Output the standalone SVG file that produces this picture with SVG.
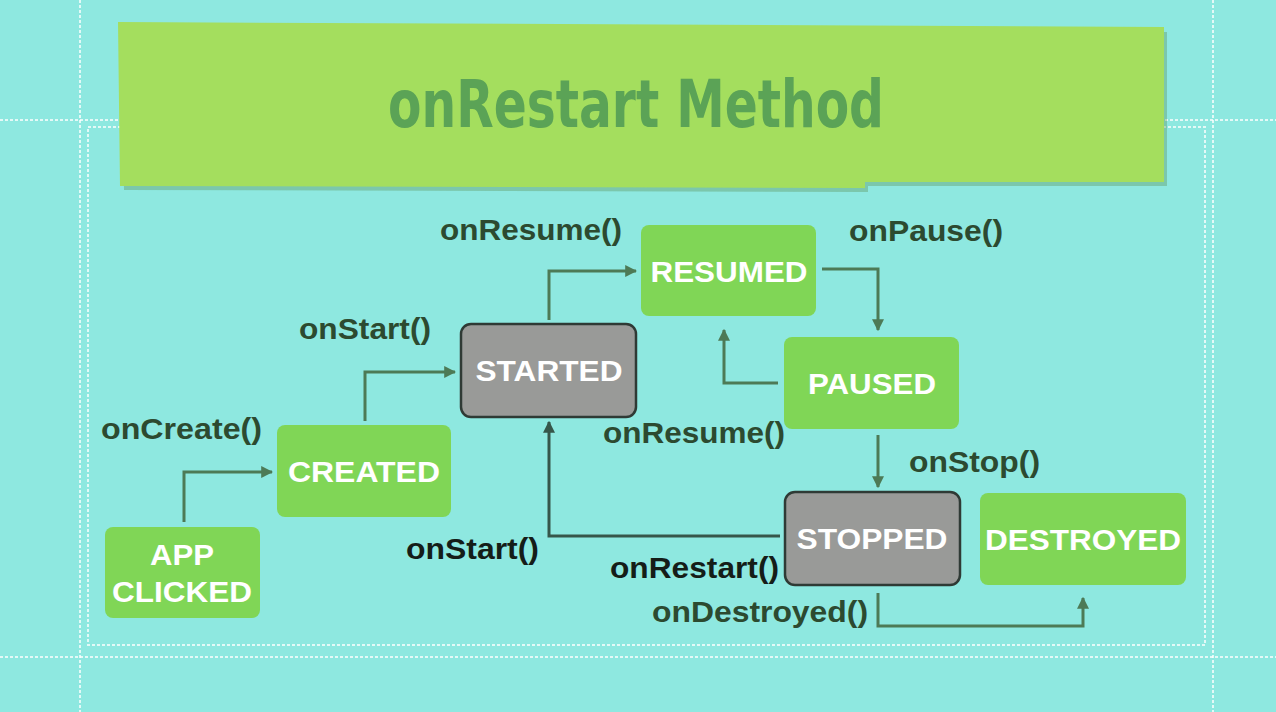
<svg xmlns="http://www.w3.org/2000/svg" width="1276" height="712" viewBox="0 0 1276 712">
<defs>
<marker id="ah" viewBox="0 0 10 10" refX="9" refY="5" markerWidth="4" markerHeight="4" orient="auto" markerUnits="strokeWidth"><path d="M0,0 L10,5 L0,10 z" fill="#4d7a56"/></marker>
<marker id="ahd" viewBox="0 0 10 10" refX="9" refY="5" markerWidth="4" markerHeight="4" orient="auto" markerUnits="strokeWidth"><path d="M0,0 L10,5 L0,10 z" fill="#36564a"/></marker>
<style>
.g{fill:#80d656}
.gr{fill:#999a98;stroke:#2f3a35;stroke-width:2.5}
.nt{font-family:"Liberation Sans",Arial,sans-serif;font-weight:bold;font-size:29px;fill:#ffffff;text-anchor:middle}
.lb{font-family:"Liberation Sans",Arial,sans-serif;font-weight:bold;font-size:30px;fill:#2c4a30}
.lk{fill:#151d18}
.c{fill:none;stroke:#4d7a56;stroke-width:3;marker-end:url(#ah)}
.cd{fill:none;stroke:#36564a;stroke-width:3;marker-end:url(#ahd)}
.d{fill:none;stroke:#ffffff;stroke-opacity:0.75;stroke-width:2;stroke-dasharray:3 2}
</style>
</defs>
<rect width="1276" height="712" fill="#8ee8e0"/>
<g id="frame">
<line class="d" x1="80" y1="0" x2="80" y2="712"/>
<line class="d" x1="1213" y1="0" x2="1213" y2="712"/>
<line class="d" x1="0" y1="120" x2="1276" y2="120"/>
<line class="d" x1="0" y1="657" x2="1276" y2="657"/>
<rect class="d" x="88" y="127" width="1117" height="518"/>
</g>
<g id="banner">
<polygon points="122,27 1167,32 1167,186 868,186 868,192 124,190" fill="#5a8a4a" opacity="0.35"/>
<polygon points="118,22 1164,27 1164,182 865,182 865,188 120,186" fill="#a4de5e"/>
<text x="636" y="127" font-family="'DejaVu Sans Condensed','DejaVu Sans',sans-serif" font-weight="bold" font-size="66" fill="#5ba356" text-anchor="middle" textLength="496" lengthAdjust="spacingAndGlyphs">onRestart Method</text>
</g>
<g id="connectors">
<polyline class="c" points="184,522 184,472 272,472"/>
<polyline class="c" points="365,421 365,372 455,372"/>
<polyline class="c" points="549,320 549,271 636,271"/>
<polyline class="c" points="822,269 878,269 878,330"/>
<polyline class="c" points="778,383 724,383 724,330"/>
<polyline class="c" points="878,435 878,487"/>
<polyline class="cd" points="780,536 549,536 549,422"/>
<polyline class="c" points="878,593 878,626 1083,626 1083,598"/>
</g>
<g id="app"><rect class="g" x="105" y="527" width="155" height="91" rx="8"/><text class="nt" x="182" y="565" textLength="64" lengthAdjust="spacingAndGlyphs">APP</text><text class="nt" x="182" y="602" textLength="140" lengthAdjust="spacingAndGlyphs">CLICKED</text></g>
<g id="created"><rect class="g" x="277" y="425" width="174" height="92" rx="8"/><text class="nt" x="364" y="482" textLength="152" lengthAdjust="spacingAndGlyphs">CREATED</text></g>
<g id="started"><rect class="gr" x="461" y="324" width="175" height="93" rx="10"/><text class="nt" x="549" y="381" textLength="147" lengthAdjust="spacingAndGlyphs">STARTED</text></g>
<g id="resumed"><rect class="g" x="641" y="225" width="175" height="91" rx="8"/><text class="nt" x="729" y="282" textLength="157" lengthAdjust="spacingAndGlyphs">RESUMED</text></g>
<g id="paused"><rect class="g" x="784" y="337" width="175" height="92" rx="8"/><text class="nt" x="872" y="394" textLength="128" lengthAdjust="spacingAndGlyphs">PAUSED</text></g>
<g id="stopped"><rect class="gr" x="785" y="492" width="175" height="93" rx="10"/><text class="nt" x="872" y="549" textLength="151" lengthAdjust="spacingAndGlyphs">STOPPED</text></g>
<g id="destroyed"><rect class="g" x="980" y="493" width="206" height="92" rx="8"/><text class="nt" x="1083" y="550" textLength="196" lengthAdjust="spacingAndGlyphs">DESTROYED</text></g>
<g id="labels">
<text class="lb" x="440" y="240" textLength="182" lengthAdjust="spacingAndGlyphs">onResume()</text>
<text class="lb" x="849" y="241" textLength="154" lengthAdjust="spacingAndGlyphs">onPause()</text>
<text class="lb" x="299" y="339" textLength="132" lengthAdjust="spacingAndGlyphs">onStart()</text>
<text class="lb" x="101" y="439" textLength="161" lengthAdjust="spacingAndGlyphs">onCreate()</text>
<text class="lb" x="603" y="443" textLength="182" lengthAdjust="spacingAndGlyphs">onResume()</text>
<text class="lb" x="909" y="472" textLength="131" lengthAdjust="spacingAndGlyphs">onStop()</text>
<text class="lb lk" x="406" y="559" textLength="133" lengthAdjust="spacingAndGlyphs">onStart()</text>
<text class="lb lk" x="610" y="578" textLength="169" lengthAdjust="spacingAndGlyphs">onRestart()</text>
<text class="lb" x="652" y="622" textLength="216" lengthAdjust="spacingAndGlyphs">onDestroyed()</text>
</g>
</svg>
